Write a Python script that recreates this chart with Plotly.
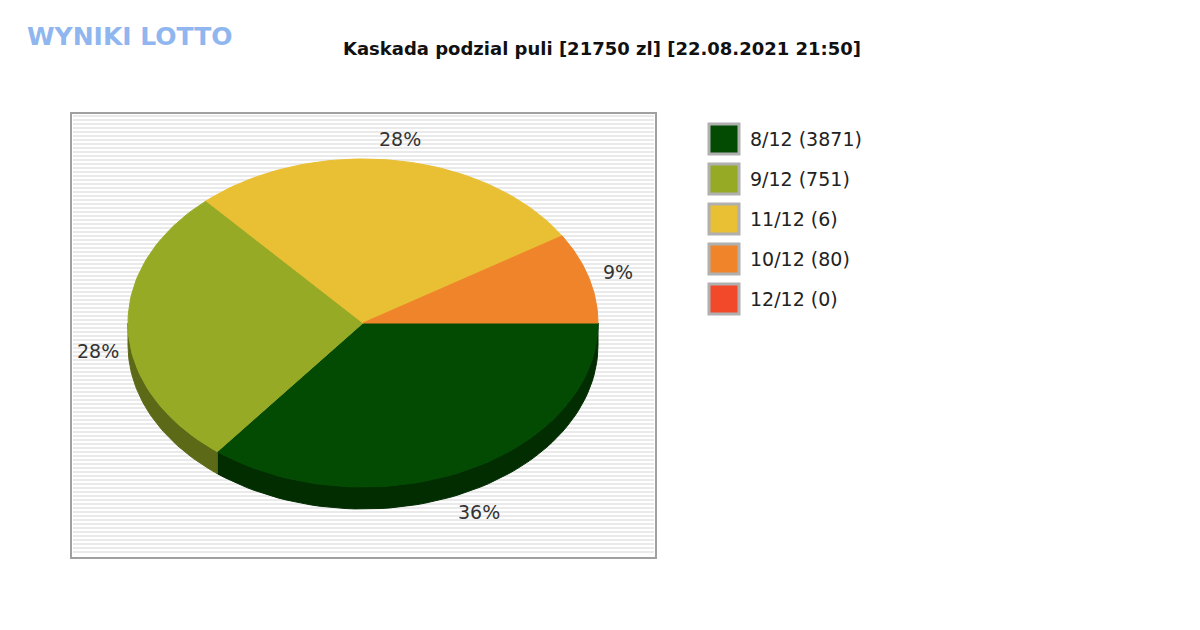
import math
import plotly.graph_objects as go

labels = ["8/12 (3871)", "9/12 (751)", "11/12 (6)", "10/12 (80)", "12/12 (0)"]
shares = [36, 28, 28, 9, 0]
colors = ["#034a02", "#97aa26", "#e9bf33", "#ef842b", "#f2492a"]
dark = ["#022d01", "#5c6a17", "#8f7520", "#93521b", "#952d1a"]
title = "Kaskada podzial puli [21750 zl] [22.08.2021 21:50]"

cx, cy, rx, ry, depth = 363, 323, 235, 164, 22
total = sum(shares)

fig = go.Figure()
shapes = []
# plot background with stripes
shapes.append(dict(type="rect", x0=71, x1=656, y0=113, y1=558, fillcolor="white",
                   line=dict(color="#a0a0a0", width=2), layer="below"))
y = 116
while y < 556:
    shapes.append(dict(type="line", x0=73, x1=654, y0=y, y1=y,
                       line=dict(color="#e3e3e3", width=1.5), layer="below"))
    y += 4

def arc(a0, a1, dy=0, n=60):
    pts = []
    for i in range(n + 1):
        a = a0 + (a1 - a0) * i / n
        pts.append((cx + rx * math.cos(a), cy + ry * math.sin(a) + dy))
    return pts

# side walls
ang = 0.0
bounds = []
for v in shares:
    a1 = ang + 2 * math.pi * v / total
    bounds.append((ang, a1))
    ang = a1
for (a0, a1), c in zip(bounds, dark):
    s0, s1 = max(a0, 0), min(a1, math.pi)
    if s1 > s0:
        top = arc(s0, s1)
        bot = arc(s1, s0, depth)
        pts = top + bot + [top[0]]
        fig.add_trace(go.Scatter(x=[p[0] for p in pts], y=[p[1] for p in pts], fill="toself",
                                 fillcolor=c, line=dict(color=c, width=1), mode="lines",
                                 hoverinfo="skip", showlegend=False))
# top faces
for (a0, a1), c, v in zip(bounds, colors, shares):
    if v == 0:
        continue
    pts = [(cx, cy)] + arc(a0, a1) + [(cx, cy)]
    fig.add_trace(go.Scatter(x=[p[0] for p in pts], y=[p[1] for p in pts], fill="toself",
                             fillcolor=c, line=dict(color=c, width=1), mode="lines",
                             hoverinfo="skip", showlegend=False))
    m = (a0 + a1) / 2
    lx = cx + rx * 1.13 * math.cos(m)
    ly = cy + ry * 1.13 * math.sin(m) + (depth if math.sin(m) > 0 else 0)
    fig.add_annotation(x=lx, y=ly, text=f"{round(100 * v / total)}%", showarrow=False,
                       font=dict(size=19, color="#333"))

# legend
for i, (lab, c) in enumerate(zip(labels, colors)):
    yy = 139 + 40 * i
    shapes.append(dict(type="rect", x0=709, x1=739, y0=yy - 15, y1=yy + 15, fillcolor=c,
                       line=dict(color="#b0b0b0", width=3)))
    fig.add_annotation(x=748, y=yy, text=lab, showarrow=False, xanchor="left",
                       font=dict(size=19, color="#222"))

fig.add_annotation(x=602, y=48, text=f"<b>{title}</b>", showarrow=False,
                   font=dict(size=18, color="#111"))
fig.add_annotation(x=130, y=36, text="<b>WYNIKI LOTTO</b>", showarrow=False,
                   font=dict(size=25, color="#8fb6ee", family="DejaVu Sans"))

fig.update_layout(width=1200, height=630, margin=dict(l=0, r=0, t=0, b=0),
                  plot_bgcolor="white", paper_bgcolor="white", shapes=shapes,
                  font=dict(family="DejaVu Sans"),
                  xaxis=dict(range=[8, 1208], visible=False, fixedrange=True),
                  yaxis=dict(range=[638, 8], visible=False, fixedrange=True))
fig.write_html("out.html")
